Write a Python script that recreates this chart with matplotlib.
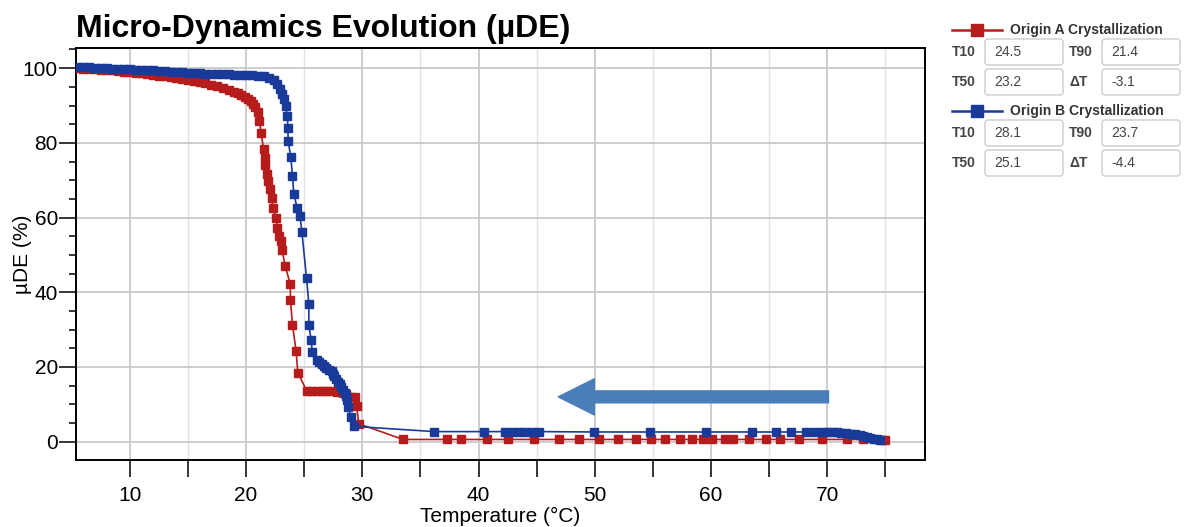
import matplotlib
matplotlib.use("Agg")
import matplotlib.pyplot as plt
from matplotlib.patches import FancyBboxPatch
from matplotlib.lines import Line2D
from matplotlib.ticker import MultipleLocator

plt.rcParams['font.family'] = ['Liberation Sans', 'DejaVu Sans']

# Origin A crystallization (red)
temp_a = [5.5, 6.0, 6.5, 7.0, 7.5, 8.0, 8.5, 9.0, 9.5, 10.0, 10.5, 11.0, 11.5, 12.0,
          12.5, 13.0, 13.5, 14.0, 14.5, 15.0, 15.5, 16.0, 16.5, 17.0, 17.5, 18.0,
          18.5, 19.0, 19.3, 19.6, 19.9, 20.2, 20.4, 20.6, 20.8, 21.0, 21.15, 21.3,
          21.5, 21.6, 21.65, 21.8, 21.92, 22.07, 22.2, 22.3, 22.6, 22.7, 22.87, 22.99,
          23.1, 23.36, 23.8, 23.82, 23.99, 24.3, 24.45, 25.2, 25.6, 26.1, 26.5, 26.9,
          27.3, 27.8, 28.3, 28.6, 28.9, 29.4, 29.5, 29.7, 33.5, 37.3, 38.5, 40.7,
          42.5, 44.8, 46.9, 48.6, 50.4, 52.0, 53.5, 54.8, 56.0, 57.3, 58.4, 59.3,
          60.1, 61.2, 61.9, 63.3, 64.7, 65.9, 67.6, 69.5, 71.7, 73.1, 74.7, 75.0]
ude_a = [100.0, 99.9, 99.8, 99.7, 99.6, 99.5, 99.4, 99.2, 99.1, 99.0, 98.8, 98.6, 98.4, 98.2,
         98.0, 97.8, 97.6, 97.3, 97.1, 96.8, 96.5, 96.2, 95.9, 95.5, 95.1, 94.7,
         94.2, 93.7, 93.3, 92.9, 92.4, 91.7, 91.1, 90.4, 89.5, 88.2, 85.8, 82.7,
         78.3, 76.0, 74.2, 71.8, 69.7, 67.6, 65.2, 62.5, 59.8, 57.1, 55.1, 53.6,
         51.2, 47.1, 42.2, 38.0, 31.3, 24.4, 18.5, 13.7, 13.7, 13.7, 13.7, 13.7,
         13.6, 13.4, 13.1, 12.8, 12.1, 12.1, 9.6, 4.8, 0.6, 0.6, 0.6, 0.6,
         0.6, 0.6, 0.6, 0.6, 0.6, 0.6, 0.6, 0.6, 0.6, 0.6, 0.6, 0.6,
         0.6, 0.6, 0.6, 0.6, 0.6, 0.6, 0.6, 0.6, 0.6, 0.6, 0.5, 0.4]

# Origin B crystallization (blue)
temp_b = [5.5, 6.0, 6.5, 7.0, 7.5, 8.0, 8.5, 9.0, 9.5, 10.0, 10.5, 11.0, 11.5, 12.0,
          12.5, 13.0, 13.5, 14.0, 14.5, 15.0, 15.5, 16.0, 16.5, 17.0, 17.5, 18.0,
          18.5, 19.0, 19.5, 20.0, 20.5, 21.0, 21.5, 22.0, 22.4, 22.7, 22.9, 23.1,
          23.25, 23.4, 23.55, 23.6, 23.62, 23.85, 23.99, 24.1, 24.4, 24.64, 24.8, 25.2,
          25.4, 25.4, 25.6, 25.7, 26.1, 26.3, 26.5, 26.7, 26.9, 27.1, 27.36, 27.5,
          27.6, 27.75, 27.9, 28.05, 28.2, 28.35, 28.5, 28.6, 28.7, 28.8, 29.0, 29.3,
          36.2, 40.5, 42.3, 42.9, 43.5, 44.0, 44.6, 45.2, 49.9, 54.75, 59.6, 63.5,
          65.6, 66.9, 68.2, 68.95, 69.6, 70.0, 70.4, 70.8, 71.2, 71.6, 72.0, 72.4,
          72.8, 73.1, 73.4, 73.7, 74.0, 74.3, 74.5]
ude_b = [100.3, 100.25, 100.2, 100.1, 100.05, 100.0, 99.9, 99.85, 99.8, 99.7, 99.6, 99.5, 99.45, 99.4,
         99.3, 99.2, 99.1, 99.0, 98.9, 98.8, 98.7, 98.6, 98.55, 98.5, 98.45, 98.4,
         98.35, 98.3, 98.25, 98.2, 98.1, 98.0, 97.8, 97.5, 96.8, 95.8, 94.5, 93.0,
         91.8, 90.0, 87.2, 84.0, 80.5, 76.1, 71.2, 66.4, 62.5, 60.4, 56.2, 43.8,
         36.9, 31.3, 27.1, 23.9, 21.9, 21.3, 20.8, 20.2, 19.7, 19.3, 18.8, 18.2,
         17.5, 16.8, 16.1, 15.4, 14.6, 13.8, 13.0, 12.2, 11.2, 9.3, 6.6, 4.1,
         2.7, 2.7, 2.7, 2.7, 2.7, 2.7, 2.7, 2.7, 2.6, 2.6, 2.6, 2.6,
         2.6, 2.6, 2.6, 2.6, 2.6, 2.6, 2.55, 2.5, 2.4, 2.3, 2.1, 1.95,
         1.7, 1.5, 1.3, 1.05, 0.85, 0.6, 0.35]

names = ['Origin A Crystallization', 'Origin B Crystallization']
stats_a = [('T10', '24.5'), ('T90', '21.4'), ('T50', '23.2'), ('\u0394T', '-3.1')]
stats_b = [('T10', '28.1'), ('T90', '23.7'), ('T50', '25.1'), ('\u0394T', '-4.4')]

RED = '#b71c1c'
BLUE = '#1a3a9a'
ARROW = '#4a7ebb'

W, H = 1190, 527
fig = plt.figure(figsize=(W / 100, H / 100), dpi=100)
ax = fig.add_axes([76 / W, 1 - 460 / H, (925 - 76) / W, (460 - 48) / H])

ax.plot(temp_a, ude_a, color=RED, lw=1.2, marker='s', ms=6, mfc=RED, mec=RED, zorder=3)
ax.plot(temp_b, ude_b, color=BLUE, lw=1.2, marker='s', ms=6, mfc=BLUE, mec=BLUE, zorder=4)

# cooling direction arrow
ax.annotate('', xy=(46.85, 12.0), xytext=(70.1, 12.0),
            arrowprops=dict(arrowstyle='simple,head_length=26,head_width=26,tail_width=8.6',
                            mutation_scale=1, color=ARROW, shrinkA=0, shrinkB=0))

ax.set_xlim(5.37, 78.4)
ax.set_ylim(-4.9, 105.4)
ax.xaxis.set_major_locator(MultipleLocator(10))
ax.xaxis.set_minor_locator(MultipleLocator(5))
ax.yaxis.set_major_locator(MultipleLocator(20))
ax.yaxis.set_minor_locator(MultipleLocator(5))
ax.grid(which='major', axis='both', color='#c9c9c9', lw=1.3)
ax.grid(which='minor', axis='x', color='#e3e3e3', lw=1.0)
ax.set_axisbelow(True)
for s in ax.spines.values():
    s.set_linewidth(1.4)

ax.tick_params(axis='x', which='both', direction='out', length=12, width=1.1, pad=7,
               labelsize=15)
ax.tick_params(axis='y', which='major', direction='out', length=12, width=1.1, pad=1,
               labelsize=15)
ax.tick_params(axis='y', which='minor', direction='out', length=5, width=1.1)

ax.set_xlabel('Temperature (\u00b0C)', fontsize=15, labelpad=1)
ax.set_ylabel('\u00b5DE (%)', fontsize=15)
ax.yaxis.set_label_coords(-0.052, 0.5)

fig.text(76 / W, 1 - 29 / H, 'Micro-Dynamics Evolution (\u00b5DE)', fontsize=23,
         weight='bold', va='center', ha='left')

# side panel with the stats boxes
tr = fig.dpi_scale_trans
def px(x, y):
    return x / 100, (H - y) / 100

for name, col, stats, hy in [(names[0], RED, stats_a, 30), (names[1], BLUE, stats_b, 111)]:
    x0, y0 = px(952, hy)
    x1, _ = px(1002, hy)
    fig.add_artist(Line2D([x0, x1], [y0, y0], color=col, lw=1.8, transform=tr))
    fig.add_artist(Line2D([(x0 + x1) / 2], [y0], color=col, marker='s', ms=8.5, transform=tr))
    fig.text(*px(1010, hy), name, transform=tr, fontsize=10, weight='bold',
             color='#333333', va='center', ha='left')
    for i, (lab, val) in enumerate(stats):
        row, colm = divmod(i, 2)
        cy = hy + 22 + 30 * row
        lx = 952 if colm == 0 else 1069
        bx = 985 if colm == 0 else 1102
        fig.text(*px(lx, cy), lab, transform=tr, fontsize=10, weight='bold',
                 color='#444444', va='center', ha='left')
        bx_in, by_in = px(bx, cy + 13)
        box = FancyBboxPatch((bx_in, by_in), 0.78, 0.26,
                             boxstyle='round,pad=0,rounding_size=0.03',
                             transform=tr, fc='white', ec='#cccccc', lw=1.0)
        fig.add_artist(box)
        fig.text(*px(bx + 9, cy), val, transform=tr, fontsize=10,
                 color='#444444', va='center', ha='left')

fig.savefig('out.png', dpi=100)
